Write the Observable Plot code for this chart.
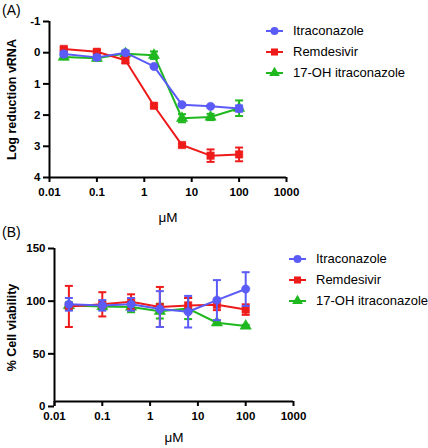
<!DOCTYPE html>
<html><head><meta charset="utf-8">
<script src="https://cdn.jsdelivr.net/npm/d3@7"></script>
<script src="https://cdn.jsdelivr.net/npm/@observablehq/plot@0.6"></script>
<style>
body{margin:0;background:#fff;font-family:"Liberation Sans",Arial,sans-serif;}
#wrap{position:relative;width:428px;height:448px;overflow:hidden;background:#fff}
.panel{position:absolute;left:0;width:428px;height:224px}
.tag{position:absolute;left:2px;font-size:14px;line-height:14px;color:#000}
.legend{position:absolute;font-size:13px;color:#000}
.legend .row{display:flex;align-items:center;height:21px;white-space:nowrap}
.legend svg{margin-right:10px}
</style></head><body><div id="wrap"></div>
<script>
// ---- data ----
const concentrations = [0.02, 0.1, 0.4, 1.6, 6.25, 25, 100];
const seriesNames = ["Itraconazole", "Remdesivir", "17-OH itraconazole"];
const seriesColors = ["#5b5bf7", "#ee1b1b", "#1fb81f"];
const seriesSymbols = ["circle", "square", "triangle"];
const xTicks = [0.01, 0.1, 1, 10, 100, 1000];
const xLabel = "μM";

// Panel A: log reduction vRNA (mean, error)
const itraA = [0.04, 0.15, 0.0, 0.44, 1.67, 1.72, 1.79];
const itraAErr = [0.08, 0.08, 0.05, 0.04, 0.03, 0.03, 0.1];
const remA = [-0.12, -0.03, 0.24, 1.7, 2.96, 3.3, 3.26];
const remAErr = [0.05, 0.05, 0.1, 0.05, 0.05, 0.2, 0.22];
const ohA = [0.14, 0.18, 0.03, 0.08, 2.1, 2.06, 1.78];
const ohAErr = [0.07, 0.07, 0.1, 0.12, 0.13, 0.1, 0.25];
const yTicksA = [-1, 0, 1, 2, 3, 4];
const yLabelA = "Log reduction vRNA";

// Panel B: % cell viability (mean, error)
const itraB = [97, 96, 97, 92.5, 90, 101, 111.5];
const itraBErr = [6, 5, 6, 17, 15, 19, 16];
const remB = [95, 97, 99.5, 94.5, 96, 96.5, 92];
const remBErr = [19.5, 11.5, 7, 19, 7, 5, 5];
const ohB = [96, 95, 94.5, 90.5, 93, 79.5, 76.5];
const ohBErr = [3, 3, 5, 7, 10, 2, 1];
const yTicksB = [0, 50, 100, 150];
const yLabelB = "% Cell viability";

// ---- helpers ----
const capSymbol = {draw(ctx) { ctx.moveTo(-4, 0); ctx.lineTo(4, 0); }};

function rowsFor(valuesList, errList) {
  return seriesNames.map((name, i) => concentrations.map((c, j) => ({
    series: name, x: c, y: valuesList[i][j],
    lo: valuesList[i][j] - errList[i][j], hi: valuesList[i][j] + errList[i][j]
  })));
}

function makePanel(cfg) {
  const rows = rowsFor(cfg.values, cfg.errors);
  const seriesMarks = [];
  [2, 1, 0].forEach(i => {
    const d = rows[i], col = seriesColors[i];
    seriesMarks.push(
      Plot.ruleX(d, {x: "x", y1: "lo", y2: "hi", stroke: col, strokeWidth: 2}),
      Plot.dot(d, {x: "x", y: "lo", symbol: capSymbol, r: 4, fill: "none", stroke: col, strokeWidth: 2}),
      Plot.dot(d, {x: "x", y: "hi", symbol: capSymbol, r: 4, fill: "none", stroke: col, strokeWidth: 2}),
      Plot.line(d, {x: "x", y: "y", stroke: col, strokeWidth: 2}),
      Plot.dot(d, {x: "x", y: "y", symbol: seriesSymbols[i], r: 4.2, fill: col, stroke: col, strokeWidth: 0.5})
    );
  });
  return Plot.plot({
    width: 428, height: 224,
    marginLeft: cfg.ml, marginRight: cfg.mr, marginTop: cfg.mt, marginBottom: cfg.mb,
    style: {fontFamily: "'Liberation Sans', Arial, sans-serif", fontSize: "11px", fontWeight: "bold", color: "#000", background: "transparent", overflow: "visible"},
    x: {type: "log", domain: [xTicks[0], xTicks[xTicks.length - 1]]},
    y: {domain: cfg.yDomain, reverse: cfg.reverse},
    marks: [
      Plot.ruleX([xTicks[0]], {stroke: "#000", strokeWidth: 2}),
      Plot.ruleY([cfg.yBase], {stroke: "#000", strokeWidth: 2, dy: cfg.xdy, x1: xTicks[0], x2: xTicks[xTicks.length - 1]}),
      Plot.axisY({ticks: cfg.yTicks, tickFormat: d => String(d), tickSize: 6, tickPadding: 3, strokeWidth: 2, label: null, fontSize: 11.5, fontWeight: "bold"}),
      Plot.axisX({ticks: xTicks, tickFormat: d => String(d), tickSize: 5, tickPadding: 5, strokeWidth: 2, label: null, dy: cfg.xdy, fontSize: 11.5, fontWeight: "bold"}),
      Plot.text([cfg.yLabel], {frameAnchor: "left", textAnchor: "middle", rotate: -90, dx: -(cfg.ml - 11), fontSize: 12.5, fontWeight: "bold", fill: "#000"}),
      Plot.text([xLabel], {frameAnchor: "bottom", dy: cfg.mudy, fontSize: 13.5, fontWeight: "normal", fill: "#000"}),
      ...seriesMarks
    ]
  });
}

function legend(left, top) {
  const div = document.createElement("div");
  div.className = "legend";
  div.style.left = left + "px";
  div.style.top = top + "px";
  seriesNames.forEach((name, i) => {
    const row = document.createElement("div");
    row.className = "row";
    const sym = {circle: d3.symbolCircle, square: d3.symbolSquare, triangle: d3.symbolTriangle}[seriesSymbols[i]];
    const path = d3.symbol(sym, 50)();
    row.innerHTML = `<svg width="17" height="10" style="overflow:visible"><line x1="0" x2="17" y1="5" y2="5" stroke="${seriesColors[i]}" stroke-width="2"/><path transform="translate(8.5,5)" d="${path}" fill="${seriesColors[i]}"/></svg><span>${name}</span>`;
    div.appendChild(row);
  });
  return div;
}

const wrap = document.getElementById("wrap");

const pA = makePanel({values: [itraA, remA, ohA], errors: [itraAErr, remAErr, ohAErr],
  yDomain: [-1, 4], reverse: true, yBase: 4, yTicks: yTicksA, yLabel: yLabelA,
  ml: 49, mr: 142, mt: 21, mb: 47, xdy: 0, mudy: 44});
pA.classList.add("panel"); pA.style.top = "0px";
wrap.appendChild(pA);

const pB = makePanel({values: [itraB, remB, ohB], errors: [itraBErr, remBErr, ohBErr],
  yDomain: [0, 150], reverse: false, yBase: 0, yTicks: yTicksB, yLabel: yLabelB,
  ml: 54, mr: 135, mt: 24, mb: 42, xdy: -5, mudy: 35});
pB.classList.add("panel"); pB.style.top = "224px";
wrap.appendChild(pB);

const tA = document.createElement("div"); tA.className = "tag"; tA.textContent = "(A)"; tA.style.top = "3px"; wrap.appendChild(tA);
const tB = document.createElement("div"); tB.className = "tag"; tB.textContent = "(B)"; tB.style.top = "225px"; wrap.appendChild(tB);

wrap.appendChild(legend(266, 20));
wrap.appendChild(legend(289, 248));
</script></body></html>
